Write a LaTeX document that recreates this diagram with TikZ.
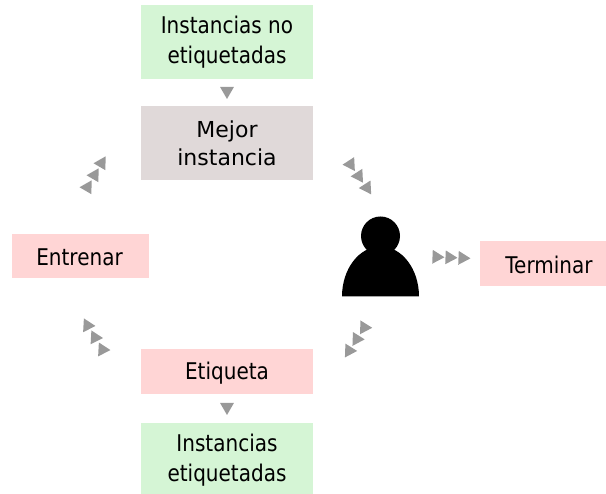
\documentclass[tikz,border=0pt]{standalone}
\usepackage{fontspec}
\setmainfont{DejaVu Sans}
\newfontfamily\narrowfont[FakeStretch=0.87]{DejaVu Sans}
\usetikzlibrary{positioning,decorations.markings}

\definecolor{boxgreen}{HTML}{D5F5D5}
\definecolor{boxpink}{HTML}{FFD5D5}
\definecolor{boxgrey}{HTML}{E0D9D9}
\definecolor{tipgrey}{HTML}{999999}

\newcommand{\tiphead}[1]{\fill[tipgrey, rotate=#1] (0:8pt) -- (120:8pt) -- (240:8pt) -- cycle;}

\tikzset{
  box/.style={rectangle, inner sep=0pt, outer sep=0pt, minimum width=172pt, align=center},
  narrowtext/.style={font=\narrowfont\fontsize{23}{30}\selectfont},
  widetext/.style={font=\fontsize{22}{28}\selectfont},
  onetip/.style={draw=none, postaction={decorate}, decoration={markings,
      mark=at position 0.5 with {\begin{scope}[xshift=-1.5pt]\tiphead{0}\end{scope}}}},
  trio/.style={draw=none, postaction={decorate}, decoration={markings,
      mark=at position 0.1667 with {\tiphead{#1}},
      mark=at position 0.5 with {\tiphead{#1}},
      mark=at position 0.8333 with {\tiphead{#1}}}}
}

\begin{document}
\begin{tikzpicture}[x=1pt, y=1pt]

    \useasboundingbox (0,0) rectangle (606,494);

    % Nodes
    \node[box, narrowtext, fill=boxgreen, minimum height=74pt] (unlabeled) at (227,452) {Instancias no\\etiquetadas};
    \node[box, widetext, fill=boxgrey, minimum height=74pt, below=27pt of unlabeled] (best) {Mejor\\instancia};
    \node[box, narrowtext, fill=boxpink, minimum width=137pt, minimum height=44pt, text height=19pt] (train) at (80.5,237.5) {Entrenar\hspace{2pt}};
    \node[box, narrowtext, fill=boxpink, minimum width=126pt, minimum height=45pt, text height=20pt] (stop) at (543,230.5) {\hspace{12pt}Terminar};
    \node[box, narrowtext, fill=boxpink, minimum height=45pt, text height=21pt, text depth=5pt] (tag) at (227,122.5) {Etiqueta};
    \node[box, narrowtext, fill=boxgreen, minimum height=71pt, below=29pt of tag] (labeled) {\rule{0pt}{21pt}Instancias\\etiquetadas};

    % Person
    \node[circle, fill=black, inner sep=0pt, outer sep=0pt, minimum size=39pt] (head) at (380.5,258) {};
    \fill (342,197.5) arc[start angle=180, end angle=0, x radius=38.5pt, y radius=50pt] -- cycle;

    % Free ends
    \coordinate (upA) at (370.9,300.5);
    \coordinate (upB) at (346.4,335.6);
    \coordinate (downA) at (368,172.3);
    \coordinate (downB) at (345.4,137.5);
    \coordinate (leftA) at (105,336.7);
    \coordinate (leftB) at (84,300.7);
    \coordinate (rightA) at (83.75,174.5);
    \coordinate (rightB) at (106.25,138.3);
    \coordinate (stopA) at (430,237.3);
    \coordinate (stopB) at (469,235.7);

    % Arrows
    \draw[onetip] (unlabeled) -- (best);
    \draw[onetip] (tag) -- (labeled);
    \draw[trio=58] (upA) -- (upB);
    \draw[trio=121] (downA) -- (downB);
    \draw[trio=-60] (leftA) -- (leftB);
    \draw[trio=55] (rightA) -- (rightB);
    \draw[trio=0] (stopA) -- (stopB);

  \end{tikzpicture}
\end{document}
